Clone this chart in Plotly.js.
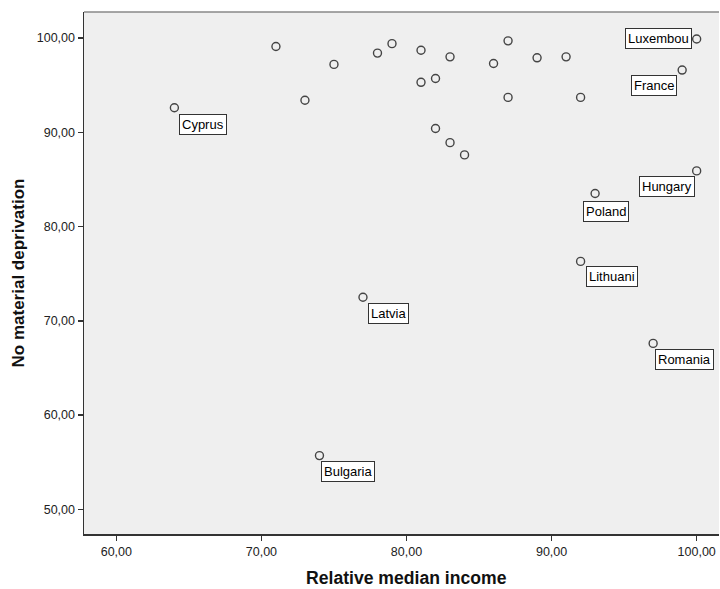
<!DOCTYPE html>
<html>
<head>
<meta charset="utf-8">
<script src="https://cdn.plot.ly/plotly-3.0.1.min.js"></script>
<style>
html,body{margin:0;padding:0;background:#fff;}
#chart{width:720px;height:589px;}
</style>
</head>
<body>
<div id="chart"></div>
<script>
// Data
var relativeMedianIncome = [64, 71, 75, 73, 78, 79, 81, 83, 86, 87, 89, 91, 81, 82, 87, 92, 82, 83, 84, 100, 99, 100, 93, 92, 74, 77, 97];
var noMaterialDeprivation = [92.6, 99.1, 97.2, 93.4, 98.4, 99.4, 98.7, 98.0, 97.3, 99.7, 97.9, 98.0, 95.3, 95.7, 93.7, 93.7, 90.4, 88.9, 87.6, 99.9, 96.6, 85.9, 83.5, 76.3, 55.7, 72.5, 67.6];
var countryLabels = ["Cyprus", "", "", "", "", "", "", "", "", "", "", "", "", "", "", "", "", "", "", "Luxembou", "France", "Hungary", "Poland", "Lithuani", "Bulgaria", "Latvia", "Romania"];
var xTickValues = [60, 70, 80, 90, 100];
var yTickValues = [50, 60, 70, 80, 90, 100];
var xAxisTitle = "Relative median income";
var yAxisTitle = "No material deprivation";

// Label placement (style only): anchor side and pixel shift from the point
var labelPlacement = {
  "Cyprus":   {xa: "left",  ya: "top",    dx: 5,   dy: -6},
  "Luxembou": {xa: "right", ya: "middle", dx: -5,  dy: 0},
  "France":   {xa: "right", ya: "top",    dx: -5,  dy: -5},
  "Hungary":  {xa: "right", ya: "top",    dx: -2,  dy: -5},
  "Poland":   {xa: "left",  ya: "top",    dx: -12, dy: -7},
  "Lithuani": {xa: "left",  ya: "top",    dx: 5,   dy: -5},
  "Bulgaria": {xa: "left",  ya: "top",    dx: 2,   dy: -5},
  "Latvia":   {xa: "left",  ya: "top",    dx: 5,   dy: -6},
  "Romania":  {xa: "left",  ya: "top",    dx: 2,   dy: -6}
};

var titleFont = {family: "Liberation Sans, Arial, sans-serif", size: 17, color: "#111", weight: "bold"};

var annotations = [];
for (var i = 0; i < countryLabels.length; i++) {
  var lab = countryLabels[i];
  if (!lab) continue;
  var p = labelPlacement[lab];
  annotations.push({
    x: relativeMedianIncome[i], y: noMaterialDeprivation[i],
    xref: "x", yref: "y",
    text: lab, showarrow: false,
    xanchor: p.xa, yanchor: p.ya, xshift: p.dx, yshift: p.dy,
    bgcolor: "#ffffff", bordercolor: "#333333", borderwidth: 1, borderpad: 2,
    font: {family: "Liberation Sans, Arial, sans-serif", size: 13, color: "#000"}
  });
}
// x-axis title drawn as an annotation so it can sit slightly right of centre, as in the reference
annotations.push({
  xref: "paper", yref: "paper", x: 0.5085, y: 0,
  xanchor: "center", yanchor: "top", yshift: -33, borderpad: 0,
  text: xAxisTitle, showarrow: false,
  font: {family: "Liberation Sans, Arial, sans-serif", size: 17.6, color: "#111", weight: "bold"}
});

var trace = {
  type: "scatter", mode: "markers",
  x: relativeMedianIncome, y: noMaterialDeprivation,
  marker: {symbol: "circle-open", size: 8, color: "#444444", line: {width: 1.4, color: "#444444"}},
  hoverinfo: "skip"
};

var axisFont = {family: "Liberation Sans, Arial, sans-serif", size: 12.5, color: "#222"};

var layout = {
  width: 720, height: 589,
  margin: {l: 84.3, r: 1, t: 12.3, b: 55, pad: 0},
  paper_bgcolor: "#ffffff",
  plot_bgcolor: "#efefef",
  separators: ", ",
  showlegend: false,
  xaxis: {
    range: [57.77, 101.54], tickvals: xTickValues, tickformat: ".2f",
    ticks: "outside", ticklen: 5, tickwidth: 1.5, tickcolor: "#333",
    showgrid: false, zeroline: false,
    showline: true, linecolor: "#333", linewidth: 1.5,
    tickfont: axisFont
  },
  yaxis: {
    range: [47.38, 102.76], tickvals: yTickValues, tickformat: ".2f",
    ticks: "outside", ticklen: 5, tickwidth: 1.5, tickcolor: "#333",
    showgrid: false, zeroline: false,
    showline: true, linecolor: "#333", linewidth: 1.5,
    tickfont: axisFont,
    title: {text: yAxisTitle, font: titleFont, standoff: 8}
  },
  shapes: [
    {type: "line", xref: "paper", yref: "paper", x0: 0, x1: 1, y0: 1, y1: 1, line: {color: "#888", width: 1.5}}
  ],
  annotations: annotations
};

Plotly.newPlot("chart", [trace], layout, {displayModeBar: false, staticPlot: true});
</script>
</body>
</html>
